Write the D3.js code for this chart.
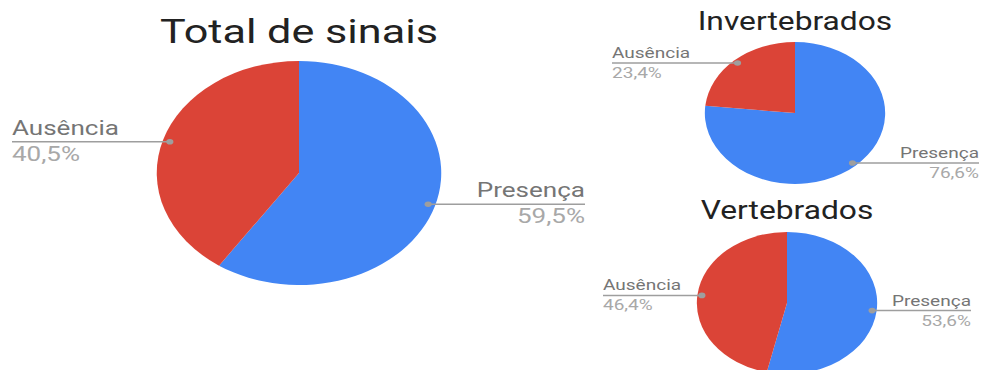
<!DOCTYPE html>
<html>
<head>
<meta charset="utf-8">
<script src="https://cdn.jsdelivr.net/npm/d3@7"></script>
<style>
  html, body { margin: 0; padding: 0; background: #ffffff; }
  svg { display: block; }
  text { font-family: Roboto, "Noto Sans", sans-serif; }
</style>
</head>
<body>
<svg id="chart" width="987" height="370"></svg>
<script>
// Shares of signs (%) by category
const categories = ["Presença", "Ausência"];
const totalValues = [59.5, 40.5];
const invertebradosValues = [76.6, 23.4];
const vertebradosValues = [53.6, 46.4];
const chartTitles = ["Total de sinais", "Invertebrados", "Vertebrados"];

const colors = d3.scaleOrdinal().domain(categories).range(["#4285f4", "#db4437"]);

// The whole figure is drawn with a horizontal stretch
const sx = 1.27;

const svg = d3.select("#chart");
const root = svg.append("g").attr("transform", `scale(${sx},1)`);

const panels = [
  { title: chartTitles[0], values: totalValues, cx: 299, cy: 173, r: 112,
    titleY: 43, titleSize: 34, labelSize: 20.5, leftX: 12, rightX: 585,
    nameDy: -7, pctDy: 19 },
  { title: chartTitles[1], values: invertebradosValues, cx: 795, cy: 113, r: 71,
    titleY: 30, titleSize: 25, labelSize: 15, leftX: 612, rightX: 979,
    nameDy: -5, pctDy: 15 },
  { title: chartTitles[2], values: vertebradosValues, cx: 787, cy: 303, r: 71,
    titleY: 219, titleSize: 25, labelSize: 15, leftX: 603, rightX: 971,
    nameDy: -5, pctDy: 15 }
];

const fmt = v => v.toFixed(1).replace(".", ",") + "%";

panels.forEach(p => {
  const g = root.append("g");
  const cx = p.cx / sx;

  g.append("text")
    .attr("x", cx)
    .attr("y", p.titleY)
    .attr("text-anchor", "middle")
    .attr("font-size", p.titleSize)
    .attr("fill", "#222")
    .text(p.title);

  const pie = d3.pie().sort(null).value(d => d.value);
  const arcs = pie(categories.map((c, i) => ({ name: c, value: p.values[i] })));
  const arc = d3.arc().innerRadius(0).outerRadius(p.r);
  const dotArc = d3.arc().innerRadius(p.r * 0.95).outerRadius(p.r * 0.95);

  const pg = g.append("g").attr("transform", `translate(${cx},${p.cy})`);
  pg.selectAll("path")
    .data(arcs)
    .join("path")
    .attr("d", arc)
    .attr("fill", d => colors(d.data.name));

  arcs.forEach(d => {
    const [dx, dy] = dotArc.centroid(d);
    const px = cx + dx, py = p.cy + dy;
    const onRight = dx > 0;
    const edge = (onRight ? p.rightX : p.leftX) / sx;
    const anchor = onRight ? "end" : "start";

    g.append("line")
      .attr("x1", px).attr("y1", py)
      .attr("x2", edge).attr("y2", py)
      .attr("stroke", "#9e9e9e")
      .attr("stroke-width", 1.5);
    g.append("circle")
      .attr("cx", px).attr("cy", py)
      .attr("r", 2.8)
      .attr("fill", "#9e9e9e");
    g.append("text")
      .attr("x", edge).attr("y", py + p.nameDy)
      .attr("text-anchor", anchor)
      .attr("font-size", p.labelSize)
      .attr("fill", "#757575")
      .text(d.data.name);
    g.append("text")
      .attr("x", edge).attr("y", py + p.pctDy)
      .attr("text-anchor", anchor)
      .attr("font-size", p.labelSize)
      .attr("fill", "#a8a8a8")
      .text(fmt(d.data.value));
  });
});
</script>
</body>
</html>
